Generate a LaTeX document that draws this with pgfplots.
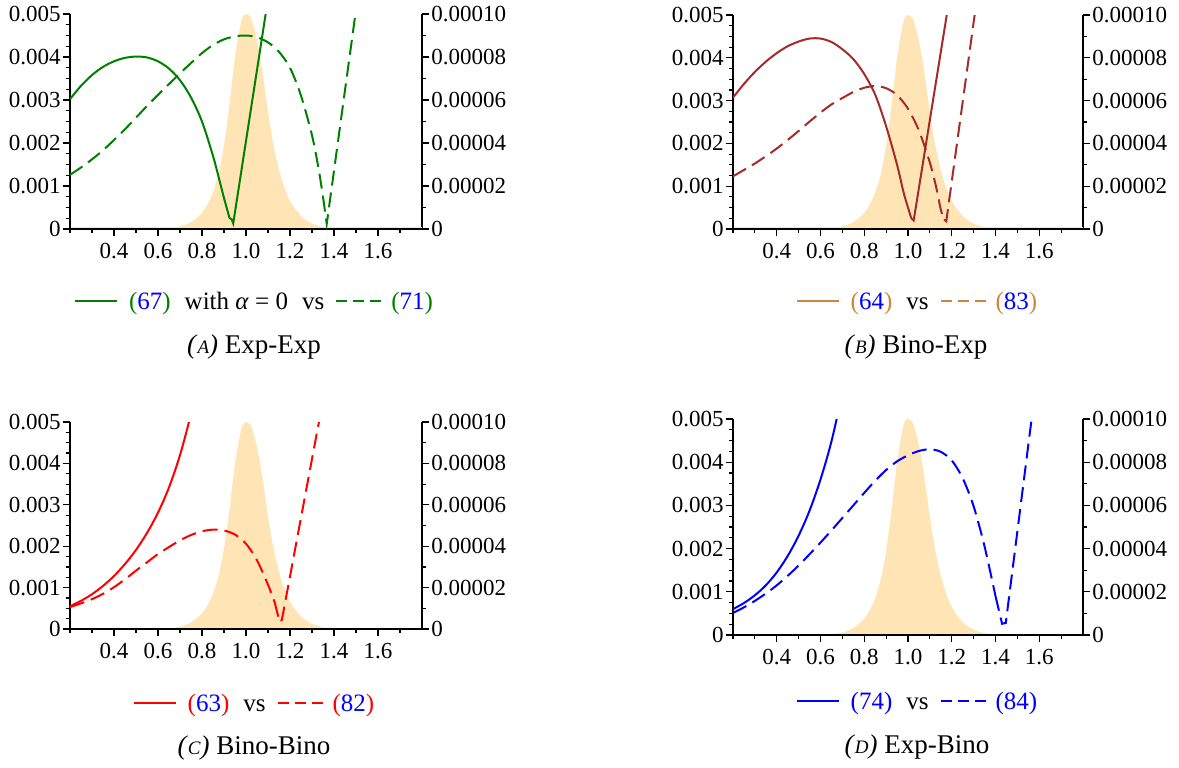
\documentclass[border=0pt]{standalone}
\usepackage{pgfplots}
\pgfplotsset{compat=1.18}
\usepackage{pgfplotstable}
\usepackage{fontspec}
\setmainfont{Liberation Serif}
\definecolor{mgreen}{RGB}{0,128,0}
\definecolor{mbrown}{RGB}{165,42,42}
\definecolor{mtan}{RGB}{205,133,63}
\definecolor{mred}{RGB}{255,0,0}
\definecolor{mblue}{RGB}{0,0,255}
\definecolor{mfill}{RGB}{255,228,181}
\newcommand{\solidsample}[1]{\textcolor{#1}{\rule[0.28em]{21pt}{1.2pt}}}
\newcommand{\dashsample}[1]{\textcolor{#1}{\rule[0.28em]{5.5pt}{1.2pt}\hspace{3pt}\rule[0.28em]{5.5pt}{1.2pt}\hspace{3pt}\rule[0.28em]{5.5pt}{1.2pt}}}
\newcommand{\eqn}[2]{\textcolor{#1}{(}\textcolor{mblue}{#2}\textcolor{#1}{)}}
\newcommand{\capfont}{\fontsize{13.5}{16}\selectfont}
\newcommand{\legfont}{\fontsize{12.5}{15}\selectfont}
\newcommand{\sublabel}[1]{\textit{(}{\itshape\fontsize{9.5}{11}\selectfont #1}\textit{)}}

\pgfplotstableread{
x y
0.20 0
0.55 0
0.60 0.00000005
0.65 0.0000003
0.70 0.0000012
0.75 0.0000032
0.80 0.0000075
0.825 0.0000115
0.85 0.0000170
0.875 0.0000255
0.90 0.0000390
0.925 0.0000580
0.95 0.0000800
0.975 0.0000950
0.9875 0.0000990
1.00 0.0001000
1.0125 0.0000995
1.025 0.0000975
1.05 0.0000880
1.075 0.0000730
1.10 0.0000545
1.125 0.0000390
1.15 0.0000275
1.175 0.0000190
1.20 0.0000130
1.25 0.0000060
1.30 0.0000025
1.35 0.0000009
1.40 0.0000003
1.50 0.00000005
1.60 0
1.80 0
}\Fill

\pgfplotstableread{
x y
0.20 0.00302
0.25 0.00333
0.30 0.00358
0.35 0.00377
0.40 0.00390
0.45 0.00398
0.50 0.00401
0.55 0.00399
0.60 0.00390
0.65 0.00373
0.70 0.00346
0.75 0.00306
0.80 0.00250
0.85 0.00170
0.88 0.00112
0.90 0.00072
0.925 0.00026
}\Asol

\pgfplotstableread{
x y
0.20 0.00126
0.25 0.00143
0.30 0.00162
0.35 0.00183
0.40 0.00207
0.45 0.00232
0.50 0.00259
0.55 0.00286
0.60 0.00312
0.65 0.00337
0.70 0.00362
0.75 0.00386
0.80 0.00409
0.85 0.00428
0.90 0.00441
0.95 0.00448
1.00 0.00450
1.05 0.00446
1.10 0.00434
1.15 0.00412
1.20 0.00375
1.25 0.00310
1.30 0.00218
1.33 0.00140
1.35 0.00075
}\Adash

\pgfplotstableread{
x y
0.20 0.00307
0.25 0.00339
0.30 0.00367
0.35 0.00391
0.40 0.00411
0.45 0.00427
0.50 0.00438
0.55 0.00445
0.60 0.00445
0.65 0.00437
0.70 0.00420
0.75 0.00397
0.80 0.00362
0.85 0.00314
0.90 0.00240
0.95 0.00150
0.98 0.00085
1.00 0.00050
1.015 0.00025
}\Bsol

\pgfplotstableread{
x y
0.20 0.00123
0.25 0.00138
0.30 0.00153
0.35 0.00170
0.40 0.00188
0.45 0.00208
0.50 0.00229
0.55 0.00251
0.60 0.00272
0.65 0.00291
0.70 0.00306
0.75 0.00320
0.80 0.00330
0.85 0.00334
0.90 0.00329
0.95 0.00313
1.00 0.00281
1.05 0.00230
1.10 0.00155
1.13 0.00095
1.15 0.00045
1.165 0.00022
}\Bdash

\pgfplotstableread{
x y
0.20 0.00055
0.25 0.00068
0.30 0.00084
0.35 0.00104
0.40 0.00128
0.45 0.00157
0.50 0.00191
0.55 0.00232
0.60 0.00281
0.65 0.00342
0.70 0.00420
0.75 0.00520
0.80 0.00640
}\Csol

\pgfplotstableread{
x y
0.20 0.00053
0.25 0.00062
0.30 0.00072
0.35 0.00085
0.40 0.00101
0.45 0.00120
0.50 0.00141
0.55 0.00161
0.60 0.00181
0.65 0.00198
0.70 0.00214
0.75 0.00227
0.80 0.00236
0.85 0.00240
0.90 0.00238
0.95 0.00228
1.00 0.00206
1.05 0.00166
1.10 0.00107
1.13 0.00065
}\Cdash

\pgfplotstableread{
x y
0.20 0.00060
0.25 0.00074
0.30 0.00092
0.35 0.00115
0.40 0.00145
0.45 0.00183
0.50 0.00230
0.55 0.00288
0.60 0.00360
0.65 0.00448
0.70 0.00560
}\Dsol

\pgfplotstableread{
x y
0.20 0.00051
0.25 0.00064
0.30 0.00079
0.35 0.00096
0.40 0.00115
0.45 0.00137
0.50 0.00161
0.55 0.00187
0.60 0.00214
0.65 0.00242
0.70 0.00271
0.75 0.00300
0.80 0.00329
0.85 0.00357
0.90 0.00382
0.95 0.00402
1.00 0.00416
1.05 0.00426
1.10 0.00430
1.15 0.00424
1.20 0.00404
1.25 0.00363
1.30 0.00298
1.35 0.00205
1.40 0.00090
}\Ddash

\pgfplotsset{
  every non boxed x axis/.append style={x axis line style={-}, xtick align=outside},
  every non boxed y axis/.append style={y axis line style={-}, ytick align=outside},
  base/.style={scale only axis, xmin=0.2, xmax=1.8, clip=true,
    tick align=outside, major tick length=3.5pt, minor tick length=2pt,
    every tick/.style={black, line width=0.6pt},
    axis line style={-, line width=0.7pt},
    x axis line style={-}, y axis line style={-},
    tick label style={font=\fontsize{11.5}{13}\selectfont},
    scaled ticks=false},
  fillax/.style={axis x line=none, axis y line=right, base, ymin=0, ymax=0.0001,
    ytick pos=right, yticklabel pos=right,
    ytick={0,0.00002,0.00004,0.00006,0.00008,0.0001},
    yticklabels={0,0.00002,0.00004,0.00006,0.00008,0.00010},
    minor y tick num=1, yticklabel style={inner xsep=1pt}},
  curveax/.style={axis x line=bottom, axis y line=left, base, ymin=0, ymax=0.005,
    ytick pos=left, xtick={0.4,0.6,0.8,1.0,1.2,1.4,1.6},
    xticklabels={0.4,0.6,0.8,1.0,1.2,1.4,1.6},
    minor xtick={0.2,0.3,0.5,0.7,0.9,1.1,1.3,1.5,1.7},
    ytick={0,0.001,0.002,0.003,0.004,0.005},
    yticklabels={0,0.001,0.002,0.003,0.004,0.005},
    minor y tick num=3, yticklabel style={inner xsep=1pt}},
  sl/.style={line width=1pt},
  dl/.style={line width=1pt, dash pattern=on 7.5pt off 3.5pt},
}

\begin{document}
\begin{tikzpicture}[x=1pt,y=1pt]
\useasboundingbox (0pt,0pt) rectangle (589.5pt,383.5pt);

% ---------- Panel A ----------
\begin{axis}[fillax, at={(35pt,269pt)}, anchor=south west, width=176pt, height=107.5pt]
\addplot[fill=mfill, draw=none, smooth] table[x=x,y=y]{\Fill} \closedcycle;
\addplot[mfill, line width=1.5pt] coordinates {(0.2,0)(1.8,0)};
\end{axis}
\begin{axis}[curveax, at={(35pt,269pt)}, anchor=south west, width=176pt, height=107.5pt]
\addplot[mgreen, sl, smooth] table[x=x,y=y]{\Asol};
\addplot[mgreen, sl] coordinates {(0.925,0.00026)(0.935,0.00022)(0.942,0.00013)(1.10,0.00535)};
\addplot[mgreen, dl, smooth] table[x=x,y=y]{\Adash};
\addplot[mgreen, dl] coordinates {(1.35,0.00075)(1.367,0.00012)(1.50,0.0051)};
\end{axis}
\node at (127pt,232pt) {\legfont\solidsample{mgreen}\hspace{6pt}\eqn{mgreen}{67}\hspace{7pt}with \textit{α} = 0\hspace{7pt}vs\hspace{6pt}\dashsample{mgreen}\hspace{5pt}\eqn{mgreen}{71}};
\node at (127pt,210pt) {\capfont\sublabel{A} Exp-Exp};

% ---------- Panel B ----------
\begin{axis}[fillax, at={(366.5pt,269pt)}, anchor=south west, width=175pt, height=107pt]
\addplot[fill=mfill, draw=none, smooth] table[x=x,y=y]{\Fill} \closedcycle;
\addplot[mfill, line width=1.5pt] coordinates {(0.2,0)(1.8,0)};
\end{axis}
\begin{axis}[curveax, at={(366.5pt,269pt)}, anchor=south west, width=175pt, height=107pt]
\addplot[mbrown, sl, smooth] table[x=x,y=y]{\Bsol};
\addplot[mbrown, sl] coordinates {(1.015,0.00025)(1.026,0.00020)(1.185,0.00525)};
\addplot[mbrown, dl, smooth] table[x=x,y=y]{\Bdash};
\addplot[mbrown, dl] coordinates {(1.165,0.00022)(1.175,0.00018)(1.31,0.0052)};
\end{axis}
\node at (458.5pt,232pt) {\legfont\solidsample{mtan}\hspace{6pt}\eqn{mtan}{64}\hspace{7pt}vs\hspace{6pt}\dashsample{mtan}\hspace{5pt}\eqn{mtan}{83}};
\node at (458pt,210pt) {\capfont\sublabel{B} Bino-Exp};

% ---------- Panel C ----------
\begin{axis}[fillax, at={(35pt,69pt)}, anchor=south west, width=176pt, height=103.5pt]
\addplot[fill=mfill, draw=none, smooth] table[x=x,y=y]{\Fill} \closedcycle;
\addplot[mfill, line width=1.5pt] coordinates {(0.2,0)(1.8,0)};
\end{axis}
\begin{axis}[curveax, at={(35pt,69pt)}, anchor=south west, width=176pt, height=103.5pt]
\addplot[mred, sl, smooth] table[x=x,y=y]{\Csol};
\addplot[mred, dl, smooth] table[x=x,y=y]{\Cdash};
\addplot[mred, dl] coordinates {(1.13,0.00065)(1.153,0.00017)(1.163,0.00022)(1.335,0.0051)};
\end{axis}
\node at (127pt,31pt) {\legfont\solidsample{mred}\hspace{6pt}\eqn{mred}{63}\hspace{7pt}vs\hspace{6pt}\dashsample{mred}\hspace{5pt}\eqn{mred}{82}};
\node at (127pt,9.5pt) {\capfont\sublabel{C} Bino-Bino};

% ---------- Panel D ----------
\begin{axis}[fillax, at={(366.5pt,66pt)}, anchor=south west, width=175pt, height=108pt]
\addplot[fill=mfill, draw=none, smooth] table[x=x,y=y]{\Fill} \closedcycle;
\addplot[mfill, line width=1.5pt] coordinates {(0.2,0)(1.8,0)};
\end{axis}
\begin{axis}[curveax, at={(366.5pt,66pt)}, anchor=south west, width=175pt, height=108pt]
\addplot[mblue, sl, smooth] table[x=x,y=y]{\Dsol};
\addplot[mblue, dl, smooth] table[x=x,y=y]{\Ddash};
\addplot[mblue, dl] coordinates {(1.40,0.00090)(1.43,0.00026)(1.447,0.00028)(1.57,0.0052)};
\end{axis}
\node at (458.5pt,32pt) {\legfont\solidsample{mblue}\hspace{6pt}\eqn{mblue}{74}\hspace{7pt}vs\hspace{6pt}\dashsample{mblue}\hspace{5pt}\eqn{mblue}{84}};
\node at (458.5pt,10pt) {\capfont\sublabel{D} Exp-Bino};

\end{tikzpicture}
\end{document}
